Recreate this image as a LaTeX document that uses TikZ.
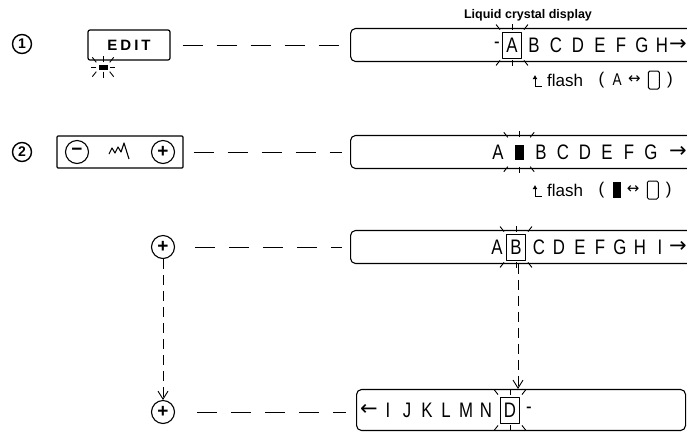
\documentclass[tikz,border=0pt]{standalone}
\usepackage{fontspec}
\setmainfont{Liberation Sans}
\newfontfamily\symfont{DejaVu Sans}
\newfontfamily\lcdfont[FakeStretch=0.8]{Liberation Sans}
\usetikzlibrary{arrows.meta,positioning}
\newcommand{\flashrays}[1]{%
  \draw[flashray] ([shift={(-2pt,2pt)}]#1.north west) -- ++(-4pt,5pt);
  \draw[flashray] ([shift={(0pt,2pt)}]#1.north) -- ++(0pt,6pt);
  \draw[flashray] ([shift={(2pt,2pt)}]#1.north east) -- ++(4pt,5pt);
  \draw[flashray] ([shift={(-2pt,-2pt)}]#1.south west) -- ++(-4pt,-5pt);
  \draw[flashray] ([shift={(0pt,-2pt)}]#1.south) -- ++(0pt,-6pt);
  \draw[flashray] ([shift={(2pt,-2pt)}]#1.south east) -- ++(4pt,-5pt);}

\begin{document}
\begin{tikzpicture}[x=1pt,y=-1pt,line join=round,
    every node/.style={font=\fontsize{12}{12}\selectfont},
    stepnum/.style={circle,draw,line width=1.4pt,inner sep=0pt,minimum size=19pt,font=\bfseries\fontsize{14}{14}\selectfont},
    keybox/.style={draw,line width=1.2pt,rounded corners=2pt,inner sep=0pt},
    pluskey/.style={circle,draw,line width=1.1pt,inner sep=0pt,minimum size=23pt,font=\bfseries\fontsize{19}{19}\selectfont},
    lcdframe/.style={draw,line width=1.1pt,rounded corners=5pt,minimum height=33pt,anchor=west,inner sep=0pt},
    lcdchar/.style={inner sep=0pt,font=\lcdfont\fontsize{21}{21}\selectfont},
    cellbox/.style={draw,line width=0.9pt,inner sep=0pt,minimum width=19pt,minimum height=26pt,font=\lcdfont\fontsize{21}{21}\selectfont},
    blank/.style={draw,line width=1pt,rounded corners=1.5pt,inner sep=0pt,minimum width=11pt,minimum height=18pt},
    flashray/.style={line width=0.9pt},
    link/.style={line width=0.9pt,dash pattern=on 20pt off 14pt},
    downlink/.style={line width=0.9pt,dash pattern=on 10pt off 6pt,-{Straight Barb[length=8pt,width=10pt]}},
    flashnote/.style={inner sep=0pt,font=\fontsize{17}{17}\selectfont}]
  \useasboundingbox (0,0) rectangle (687,432);

  \node[font=\bfseries\fontsize{12.5}{12.5}\selectfont] (title) at (528,15) {Liquid crystal display};

  \node[stepnum] (num1) at (22,44) {1};
  \node[keybox,minimum width=82pt,minimum height=30pt,font=\bfseries\fontsize{15}{15}\selectfont] (edit) at (129,45) {E\hspace{3pt}D\hspace{3pt}I\hspace{3pt}T};
  \node[fill,minimum width=9pt,minimum height=5pt,inner sep=0pt] (editled) at (103,67) {};
  \flashrays{editled}
  \draw[flashray] ([xshift=-2pt]editled.west) -- ++(-5pt,0pt);
  \draw[flashray] ([xshift=2pt]editled.east) -- ++(5pt,0pt);

  \node[lcdframe,minimum width=400pt] (disp1) at (350,45) {};
  \draw[link,shorten <=12pt,shorten >=8pt] (edit) -- (disp1);
  \node[lcdchar] (d1dash) at (497,45) {-};
  \node[cellbox] (cellA) at (512,45) {A};
  \flashrays{cellA}
  \foreach \ch/\x [count=\i] in {B/534,C/556,D/578,E/600,F/621,G/642,H/662,{\symfont →}/678}
    \node[lcdchar] (d1c\i) at (\x,45) {\ch};
  \node[flashnote,anchor=west] (flash1) at (547,80) {flash};
  \node[flashnote,right=15pt of flash1] (open1) {(};
  \node[flashnote,right=8pt of open1,font=\lcdfont\fontsize{17}{17}\selectfont] (old1) {A};
  \node[flashnote,right=6pt of old1,font=\symfont\fontsize{15}{15}\selectfont] (swap1) {↔};
  \node[blank,right=7pt of swap1] (new1) {};
  \node[flashnote,right=7pt of new1] (close1) {)};
  \draw[flashray,-{Latex[length=4pt,width=5pt]}] ([shift={(-12pt,-6pt)}]flash1.west) -- ++(0pt,11pt);
  \draw[flashray] ([shift={(-12pt,-6pt)}]flash1.west) -- ++(7pt,0pt);

  \node[stepnum] (num2) at (22,152) {2};
  \node[keybox,rounded corners=1pt,minimum width=126pt,minimum height=32pt] (ctrl) at (120,152) {};
  \node[pluskey] (minus) at (77,152) {−};
  \node[pluskey] (plus2) at (163,152) {+};
  \draw[line width=1.1pt] (109,154) -- (112,148) -- (115,153) -- (118,147) -- (121,152) -- (124,143) -- (129,159);
  \node[lcdframe,minimum width=400pt] (disp2) at (350,152) {};
  \draw[link,shorten <=10pt,shorten >=8pt] (ctrl) -- (disp2);
  \node[lcdchar] (d2A) at (498,152) {A};
  \node[minimum width=18pt,minimum height=25pt,inner sep=0pt] (curcell) at (519,152) {};
  \node[fill,minimum width=9pt,minimum height=15pt,inner sep=0pt] (cursor) at (curcell) {};
  \flashrays{curcell}
  \foreach \ch/\x [count=\i] in {B/541,C/563,D/585,E/607,F/629,G/651,{\symfont →}/678}
    \node[lcdchar] (d2c\i) at (\x,152) {\ch};
  \node[flashnote,anchor=west] (flash2) at (547,190) {flash};
  \node[flashnote,right=15pt of flash2] (open2) {(};
  \node[fill,right=8pt of open2,inner sep=0pt,minimum width=8pt,minimum height=16pt] (old2) {};
  \node[flashnote,right=6pt of old2,font=\symfont\fontsize{15}{15}\selectfont] (swap2) {↔};
  \node[blank,right=7pt of swap2] (new2) {};
  \node[flashnote,right=7pt of new2] (close2) {)};
  \draw[flashray,-{Latex[length=4pt,width=5pt]}] ([shift={(-12pt,-6pt)}]flash2.west) -- ++(0pt,11pt);
  \draw[flashray] ([shift={(-12pt,-6pt)}]flash2.west) -- ++(7pt,0pt);

  \node[pluskey] (plus3) at (163,247) {+};
  \node[lcdframe,minimum width=400pt] (disp3) at (350,247) {};
  \draw[link,shorten <=20pt,shorten >=8pt] (plus3) -- (disp3);
  \node[lcdchar] (d3A) at (497,247) {A};
  \node[cellbox] (cellB) at (516,247) {B};
  \flashrays{cellB}
  \foreach \ch/\x [count=\i] in {C/539,D/559,E/580,F/600,G/620,H/640,I/660,{\symfont →}/678}
    \node[lcdchar] (d3c\i) at (\x,247) {\ch};

  \node[pluskey] (plus4) at (163,412) {+};
  \node[lcdframe,minimum width=329pt,minimum height=41pt] (disp4) at (356,410) {};
  \draw[link,shorten <=22pt,shorten >=10pt] (plus4) -- (plus4 -| disp4.west);
  \foreach \ch/\x [count=\i] in {{\symfont ←}/369,I/388,J/407,K/427,L/446,M/466,N/486}
    \node[lcdchar] (d4c\i) at (\x,410) {\ch};
  \node[cellbox] (cellD) at (510,410) {D};
  \flashrays{cellD}
  \node[lcdchar] (d4dash) at (529,410) {-};

  \draw[downlink] (plus3) -- (plus4);
  \draw[downlink] ([xshift=2pt]disp3.south -| cellB) -- ([xshift=2pt]disp4.north -| cellB);
\end{tikzpicture}
\end{document}
